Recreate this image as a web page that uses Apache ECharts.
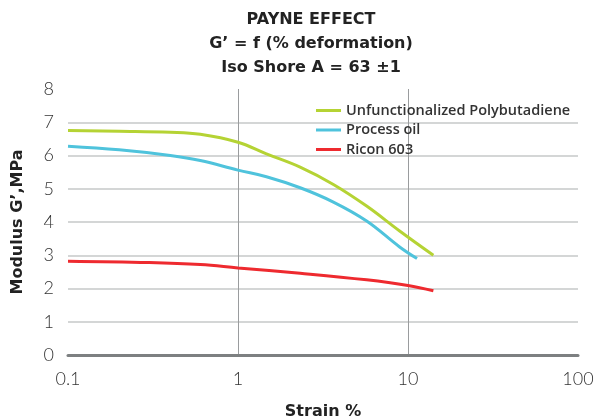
<!DOCTYPE html>
<html>
<head>
<meta charset="utf-8">
<script src="https://cdn.jsdelivr.net/npm/echarts@6/dist/echarts.min.js"></script>
<style>
  html, body { margin: 0; padding: 0; background: #fff; }
  #chart { width: 598px; height: 417px; }
</style>
</head>
<body>
<div id="chart"></div>
<script>
// values (strain %, G' MPa)
const series_names = ['Unfunctionalized Polybutadiene', 'Process oil', 'Ricon 603'];
const series_colors = ['#b5d334', '#4fc3dc', '#ee2a2f'];

const polybutadiene = [
    [0.1, 6.75], [0.2, 6.73], [0.4, 6.70], [0.6, 6.64], [1, 6.40], [1.47, 6.05],
    [2.32, 5.65], [3.64, 5.13], [5.71, 4.48], [8.93, 3.73], [14.1, 3.0]
];
const process_oil = [
    [0.1, 6.28], [0.2, 6.17], [0.4, 6.0], [0.6, 5.85], [1, 5.56], [1.47, 5.36],
    [2.32, 5.03], [3.64, 4.6], [5.71, 4.03], [8.93, 3.25], [11.3, 2.9]
];
const ricon_603 = [
    [0.1, 2.82], [0.3, 2.78], [0.6, 2.72], [1, 2.62], [2.32, 2.46], [5.71, 2.26], [10, 2.09], [14.1, 1.93]
];
const all_data = [polybutadiene, process_oil, ricon_603];

const chart = echarts.init(document.getElementById('chart'));

const bold_font = { fontFamily: 'DejaVu Sans', fontWeight: 'bold', color: '#222' };

const option = {
    animation: false,
    title: {
        text: 'PAYNE EFFECT\nG\u2019 = f (% deformation)\nIso Shore A = 63 \u00b11',
        left: 311,
        top: 8,
        padding: 0,
        textAlign: 'center',
        textStyle: Object.assign({ fontSize: 16, lineHeight: 24 }, bold_font)
    },
    legend: {
        orient: 'vertical',
        left: 316,
        top: 103,
        padding: 0,
        icon: 'rect',
        itemWidth: 25,
        itemHeight: 3,
        itemGap: 4.5,
        itemTextGap: 4,
        textStyle: { fontFamily: 'Open Sans', fontSize: 14.5, fontWeight: 600, color: '#333' },
        data: series_names
    },
    grid: { left: 68, right: 20, top: 89, bottom: 62, outerBoundsMode: 'none', containLabel: false },
    xAxis: {
        type: 'log',
        logBase: 10,
        min: 0.1,
        max: 100,
        name: 'Strain %',
        nameLocation: 'middle',
        nameGap: 49,
        nameTextStyle: Object.assign({ fontSize: 16 }, bold_font),
        axisLine: { lineStyle: { color: '#7d8081', width: 3 } },
        axisTick: { show: false },
        axisLabel: {
            fontFamily: 'Lato', fontSize: 18, fontWeight: 300, color: '#333', margin: 15,
            formatter: v => String(v)
        },
        splitLine: {
            show: true, showMinLine: false, showMaxLine: false,
            lineStyle: { color: '#9a9c9e', width: 1 }
        }
    },
    yAxis: {
        type: 'value',
        min: 0,
        max: 8,
        interval: 1,
        name: 'Modulus G\u2019,MPa',
        nameLocation: 'middle',
        nameGap: 42,
        nameTextStyle: Object.assign({ fontSize: 16 }, bold_font),
        axisLine: { show: false },
        axisTick: { show: false },
        axisLabel: { fontFamily: 'Lato', fontSize: 18, fontWeight: 300, color: '#333', margin: 14 },
        splitLine: {
            show: true, showMinLine: false, showMaxLine: false,
            lineStyle: { color: '#c6c8c9', width: 1.5 }
        }
    },
    series: series_names.map((name, i) => ({
        name: name,
        type: 'line',
        smooth: 0.4,
        showSymbol: false,
        symbol: 'none',
        color: series_colors[i],
        lineStyle: { width: 3, color: series_colors[i] },
        data: all_data[i]
    }))
};

chart.setOption(option);
</script>
</body>
</html>
